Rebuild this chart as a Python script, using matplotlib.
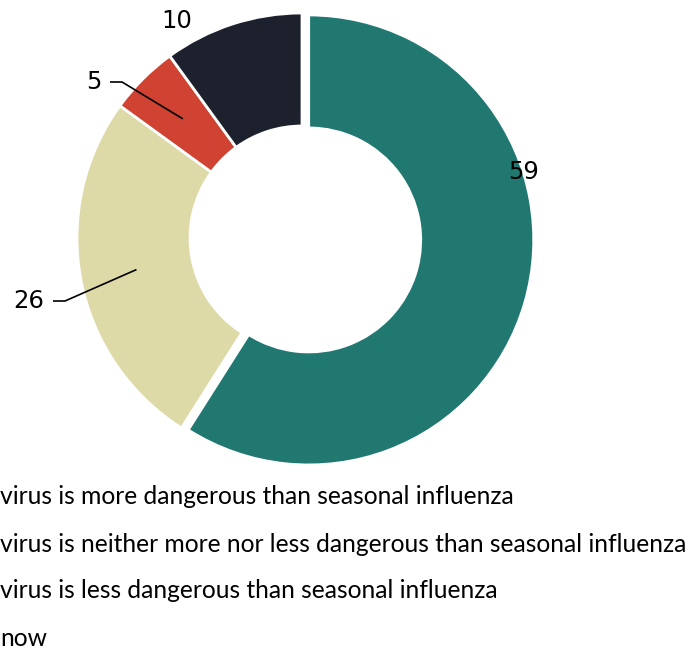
import numpy as np
import matplotlib
matplotlib.use("Agg")
import matplotlib.pyplot as plt

# Survey shares (%)
categories = [
    "virus is more dangerous than seasonal influenza",
    "virus is neither more nor less dangerous than seasonal influenza",
    "virus is less dangerous than seasonal influenza",
    "now",
]
values = [59, 26, 5, 10]
colors = ["#207871", "#DDDAA7", "#D04232", "#1C212D"]

W, H = 693, 653
fig = plt.figure(figsize=(W / 100, H / 100), dpi=100)
ax = fig.add_axes([0, 0, 1, 1])

cx, cy = 302, H - 238
R, ring = 225, 113
wedges, _ = ax.pie(
    values,
    colors=colors,
    startangle=90,
    counterclock=False,
    center=(cx, cy),
    radius=R,
    explode=[7, 0, 0, 0],
    wedgeprops=dict(width=ring, edgecolor="white", linewidth=2),
)
ax.set_xlim(0, W)
ax.set_ylim(0, H)
ax.set_aspect("equal")
ax.axis("off")

num_font = dict(family="DejaVu Sans", fontsize=17.5, color="black")

# Value labels: (label position, elbow x-range or None)
label_pos = [
    ((524, H - 172), None),
    ((29, H - 301), (53, 65)),
    ((94, H - 82), (110, 122)),
    ((177, H - 21), None),
]
for w, v, (pos, elbow) in zip(wedges, values, label_pos):
    ax.text(pos[0], pos[1], f"{v}", ha="center", va="center", **num_font)
    if elbow is not None:
        th = np.deg2rad((w.theta1 + w.theta2) / 2)
        rm = R - ring / 2
        sx, sy = cx + rm * np.cos(th), cy + rm * np.sin(th)
        ax.plot([sx, elbow[1], elbow[0]], [sy, pos[1], pos[1]],
                color="black", lw=1.2, solid_capstyle="butt")

# Legend text block
leg_y = [497, 544, 591, 638]
for txt, y in zip(categories, leg_y):
    ax.text(0, H - y, txt, ha="left", va="center", family="Lato",
            fontsize=17.75, color="black")

fig.savefig("out.png", dpi=100)
